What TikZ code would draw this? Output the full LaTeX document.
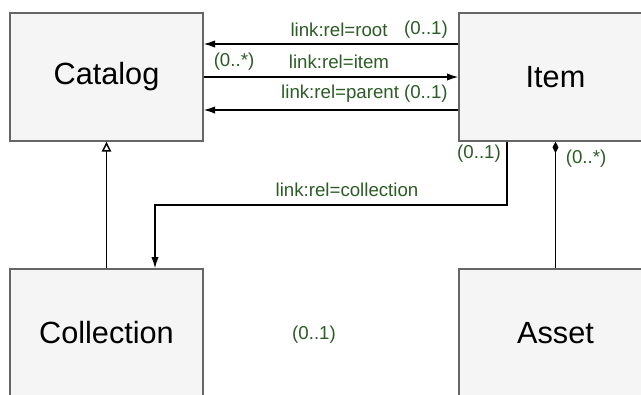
\documentclass[tikz,border=0pt]{standalone}
\usepackage{fontspec}
\setmainfont{Liberation Sans}
\usepackage{tikz}
\usetikzlibrary{arrows.meta,calc}

\definecolor{boxfill}{RGB}{245,245,245}
\definecolor{boxline}{RGB}{102,102,102}
\definecolor{lblgreen}{RGB}{44,92,38}

\tikzset{
  box/.style={draw=boxline, fill=boxfill, line width=1pt, inner sep=0pt,
    minimum width=144.75pt, minimum height=96pt,
    font=\fontsize{23}{27}\selectfont},
  lbl/.style={text=lblgreen, inner sep=0pt, font=\fontsize{14}{16}\selectfont},
  arr/.style={line width=1.1pt, -{Latex[length=8.5pt, width=5.5pt]}},
  gen/.style={line width=1.1pt, -{Triangle[open, length=7.5pt, width=7pt]}},
  comp/.style={line width=1.1pt, -{Diamond[length=8.5pt, width=4.5pt]}}
}

\begin{document}
\begin{tikzpicture}[x=0.75pt, y=-0.75pt]
    \useasboundingbox (0, 0) rectangle (641, 394);
    \clip (0, 0) rectangle (641, 394);
    % classes
    \node [box] (catalog)    at (106.5, 77)  {Catalog};
    \node [box] (item)       at (555.5, 77)  {Item};
    \node [box] (collection) at (106.5, 333) {Collection};
    \node [box] (asset)      at (555.5, 333) {Asset};
    % Item -> Catalog
    \draw [arr] ($(item.west)+(0, -33)$) -- ($(catalog.east)+(0, -33)$);
    \draw [arr] (catalog.east) -- (item.west);
    \draw [arr] ($(item.west)+(0, 33)$) -- ($(catalog.east)+(0, 33)$);
    \node [lbl] (lroot)    at (339, 30) {link:rel=root};
    \node [lbl] (mroot)    at (426, 30) {(0..1)};
    \node [lbl] (mitem)    at (234, 62) {(0..*)};
    \node [lbl] (litem)    at (339, 62) {link:rel=item};
    \node [lbl, anchor=east] (lparent) at (448, 94) {link:rel=parent (0..1)};
    % Item -> Collection
    \coordinate (bend) at (155, 205);
    \draw [arr] ($(item.south)+(-48.5, 0)$) |- (bend) -- (bend |- collection.north);
    \node [lbl] (mcoll)  at (479, 154) {(0..1)};
    \node [lbl] (lcoll)  at (347, 190) {link:rel=collection};
    % Collection is a Catalog
    \draw [gen] (collection.north) -- (catalog.south);
    % Asset in Item
    \draw [comp] (asset.north) -- (item.south);
    \node [lbl] (masset) at (586, 159) {(0..*)};
    \node [lbl] (mfree)  at (314, 335) {(0..1)};
\end{tikzpicture}
\end{document}
